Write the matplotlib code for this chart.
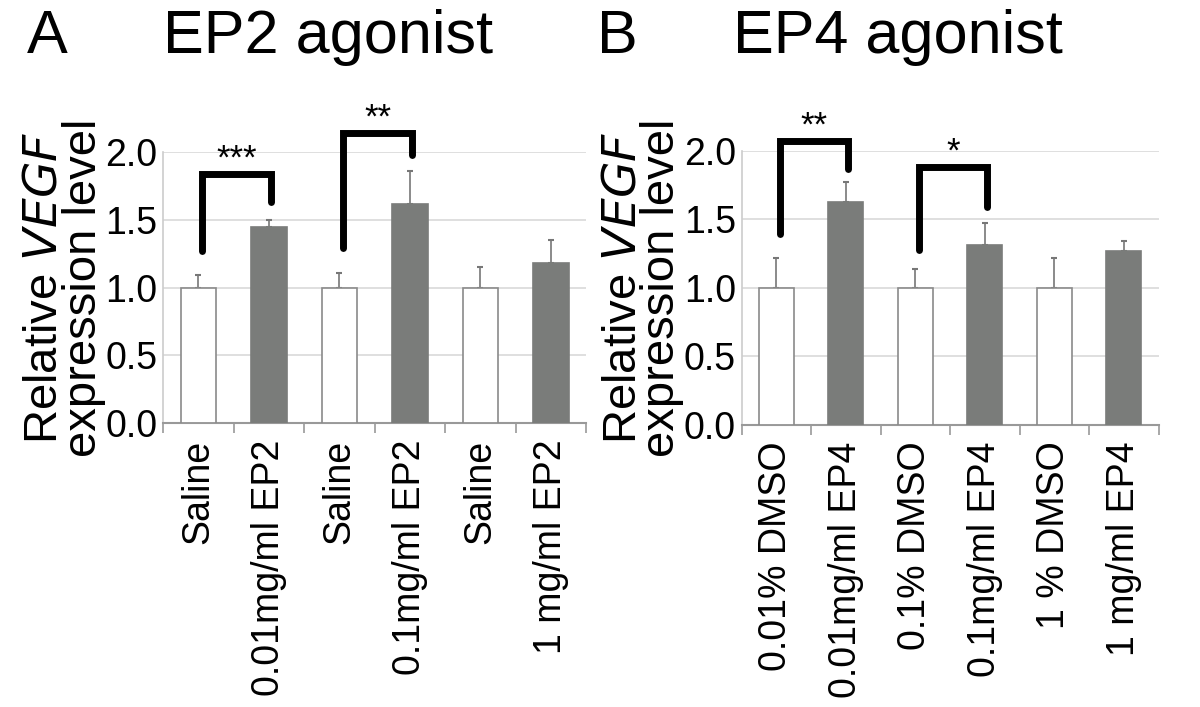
import numpy as np
import matplotlib
matplotlib.use("Agg")
import matplotlib.pyplot as plt

plt.rcParams['font.family'] = ['Liberation Sans', 'DejaVu Sans']

labels_a = ["Saline", "0.01mg/ml EP2", "Saline", "0.1mg/ml EP2", "Saline", "1 mg/ml EP2"]
values_a = [1.0, 1.45, 1.0, 1.62, 1.0, 1.18]
errors_a = [0.09, 0.05, 0.11, 0.24, 0.15, 0.17]

labels_b = ["0.01% DMSO", "0.01mg/ml EP4", "0.1% DMSO", "0.1mg/ml EP4", "1 % DMSO", "1 mg/ml EP4"]
values_b = [1.0, 1.63, 1.0, 1.31, 1.0, 1.27]
errors_b = [0.22, 0.14, 0.14, 0.16, 0.22, 0.07]

# brackets: (left bar, right bar, left bottom, top, right bottom, text, text y)
brackets_a = [(0, 1, 1.27, 1.84, 1.63, "***", 1.95),
              (2, 3, 1.29, 2.14, 1.98, "**", 2.25)]
brackets_b = [(0, 1, 1.39, 2.07, 1.87, "**", 2.18),
              (2, 3, 1.28, 1.88, 1.59, "*", 1.99)]

white = "#ffffff"
gray = "#7a7c7a"


def draw_panel(ax, labels, values, errors, brackets):
    x = np.arange(len(values))
    colors = [white if i % 2 == 0 else gray for i in range(len(values))]
    edges = ["#8a8a8a" if i % 2 == 0 else gray for i in range(len(values))]
    ax.bar(x, values, width=0.5, color=colors, edgecolor=edges, lw=1.2, zorder=3)
    ax.errorbar(x, values, yerr=[np.zeros(len(errors)), errors], fmt="none",
                ecolor="#777777", elinewidth=1.2, capsize=2, capthick=1.5, zorder=2)

    ax.set_xlim(-0.5, len(values) - 0.5)
    ax.set_ylim(0, 2.0)
    ax.set_yticks([0, 0.5, 1.0, 1.5, 2.0])
    ax.set_yticklabels(["0.0", "0.5", "1.0", "1.5", "2.0"], fontsize=27)
    ax.set_xticks(x)
    ax.set_xticklabels(labels, rotation=90, fontsize=27)
    ax.set_xticks(np.arange(len(values) + 1) - 0.5, minor=True)
    ax.tick_params(axis="x", which="major", length=0, pad=12)
    ax.tick_params(axis="x", which="minor", length=7, color="#999999", width=1.2)
    ax.tick_params(axis="y", length=0, pad=4)
    ax.grid(axis="y", color="#d9d9d9", lw=1.2, zorder=0)
    ax.set_axisbelow(True)
    for s in ["top", "right"]:
        ax.spines[s].set_visible(False)
    ax.spines["left"].set_color("#cccccc")
    ax.spines["bottom"].set_color("#999999")
    ax.spines["left"].set_linewidth(1.2)
    ax.spines["bottom"].set_linewidth(1.5)

    for i, j, yl, top, yr, txt, ty in brackets:
        xl, xr = x[i] + 0.05, x[j] + 0.03
        ax.plot([xl, xl, xr, xr], [yl, top, top, yr], color="black", lw=5,
                solid_joinstyle="miter", solid_capstyle="round", clip_on=False, zorder=5)
        ax.text((xl + xr) / 2, ty, txt, ha="center", va="center", fontsize=25, clip_on=False)

    ax.set_ylabel("Relative $\\it{VEGF}$\nexpression level", fontsize=34, linespacing=0.85,
                  labelpad=0)


fig = plt.figure(figsize=(12, 7.07), dpi=100)
ax_a = fig.add_axes([0.136, 0.4017, 0.3525, 0.383])
ax_b = fig.add_axes([0.618, 0.399, 0.3475, 0.3876])

draw_panel(ax_a, labels_a, values_a, errors_a, brackets_a)
draw_panel(ax_b, labels_b, values_b, errors_b, brackets_b)

fig.text(0.022, 0.925, "A", fontsize=44, va="baseline")
fig.text(0.273, 0.925, "EP2 agonist", fontsize=44, ha="center", va="baseline")
fig.text(0.4975, 0.925, "B", fontsize=44, va="baseline")
fig.text(0.748, 0.925, "EP4 agonist", fontsize=44, ha="center", va="baseline")

fig.savefig("out.png", dpi=100, facecolor="white")
